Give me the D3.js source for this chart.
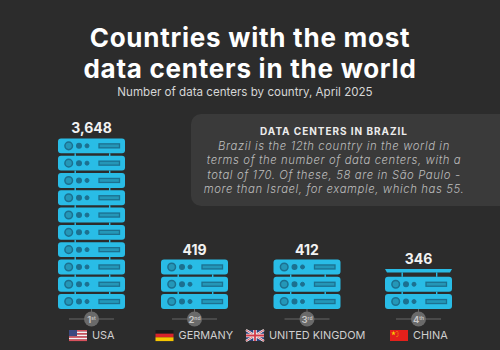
<!DOCTYPE html>
<html>
<head>
<meta charset="utf-8">
<script src="https://cdn.jsdelivr.net/npm/d3@7"></script>
<style>
html, body { margin: 0; padding: 0; background: #2c2c2c; }
svg { display: block; }
text { font-family: Inter, "Open Sans", sans-serif; }
</style>
</head>
<body>
<svg width="500" height="350"></svg>
<script>
const countries = ['USA', 'GERMANY', 'UNITED KINGDOM', 'CHINA'];
const values = [3648, 419, 412, 346];
const stackUnits = [10, 3, 3, 2.2];
const ranks = ['1', '2', '3', '4'];
const rankSuffix = ['st', 'nd', 'rd', 'th'];
const titleLines = ['Countries with the most', 'data centers in the world'];
const subtitle = 'Number of data centers by country, April 2025';
const noteTitle = 'DATA CENTERS IN BRAZIL';
const noteLines = [
	'Brazil is the 12th country in the world in',
	'terms of the number of data centers, with a',
	'total of 170. Of these, 58 are in São Paulo -',
	'more than Israel, for example, which has 55.'
];

const svg = d3.select('svg');
const width = +svg.attr('width');
const height = +svg.attr('height');

const blue = '#29bce6';
const dark = '#1c7090';
const bg = '#2c2c2c';
const blockW = 67;
const gap = 2.4;

const xScale = d3.scaleOrdinal().domain(countries).range([91.5, 194.5, 307, 418.5]);
const yScale = d3.scaleLinear().domain([0, 10]).range([309 + gap, 309 + gap - 173]);
const pitch = yScale(0) - yScale(1);
const blockH = pitch - gap;

svg.append('rect').attr('width', width).attr('height', height).attr('fill', bg);

// title block
svg.selectAll('.title').data(titleLines).enter().append('text')
	.attr('class', 'title')
	.attr('x', 250)
	.attr('y', (d, i) => 46.5 + i * 31.5)
	.attr('text-anchor', 'middle')
	.attr('font-size', 26)
	.attr('font-weight', 700)
	.attr('letter-spacing', 0.75)
	.attr('fill', '#fff')
	.text(d => d);

svg.append('text')
	.attr('x', 245)
	.attr('y', 96)
	.attr('text-anchor', 'middle')
	.attr('font-size', 11.6)
	.attr('fill', '#d6d6d6')
	.text(subtitle);

// note panel
svg.append('rect')
	.attr('x', 191).attr('y', 114)
	.attr('width', 330).attr('height', 92)
	.attr('rx', 10)
	.attr('fill', '#3a3a3a');

svg.append('text')
	.attr('x', 334).attr('y', 135)
	.attr('text-anchor', 'middle')
	.attr('font-size', 10)
	.attr('font-weight', 700)
	.attr('letter-spacing', 0.95)
	.attr('fill', '#ececec')
	.text(noteTitle);

svg.selectAll('.note').data(noteLines).enter().append('text')
	.attr('class', 'note')
	.attr('x', 334)
	.attr('y', (d, i) => 150 + i * 14.4)
	.attr('text-anchor', 'middle')
	.attr('font-size', 11.3)
	.attr('font-style', 'italic')
	.attr('font-weight', 300)
	.attr('letter-spacing', 0.62)
	.attr('fill', '#bdbdbd')
	.text(d => d);

const drawBlock = (g, left, top) => {
	g.append('rect')
		.attr('x', left).attr('y', top)
		.attr('width', blockW).attr('height', blockH)
		.attr('rx', 3)
		.attr('fill', blue);
	const cy = top + blockH / 2;
	[[10.7, 3.8, 1.5], [21, 2.4, 1.2], [29, 2, 1]].forEach(([dx, r, sw], i) => {
		g.append('circle')
			.attr('cx', left + dx).attr('cy', cy)
			.attr('r', r)
			.attr('fill', i == 0 ? '#2497b8' : dark)
			.attr('stroke', dark)
			.attr('stroke-width', sw);
	});
	g.append('rect')
		.attr('x', left + 41).attr('y', cy - 2)
		.attr('width', 20.5).attr('height', 4)
		.attr('fill', '#2497b8')
		.attr('stroke', dark)
		.attr('stroke-width', 1.3);
};

const drawConnectors = (g, left, top) => {
	[16.5, 51].forEach(dx => {
		g.append('rect')
			.attr('x', left + dx).attr('y', top + blockH)
			.attr('width', 1.4).attr('height', gap + 0.6)
			.attr('fill', blue);
	});
};

countries.forEach((c, k) => {
	const cx = xScale(c);
	const left = cx - blockW / 2;
	const g = svg.append('g');
	const units = stackUnits[k];
	const whole = Math.floor(units);

	d3.range(whole).forEach(i => {
		const top = yScale(i + 1);
		drawBlock(g, left, top);
		if (i > 0) drawConnectors(g, left, top);
	});

	let stackTop = yScale(whole) ;
	if (units > whole) {
		// part of a unit, only its top sliver shows
		const capBottom = yScale(whole) - gap - 2;
		const capTop = capBottom - (units - whole) * pitch;
		g.append('path')
			.attr('d', `M${left},${capTop} H${left + blockW} L${left + blockW - 2},${capBottom} H${left + 2} Z`)
			.attr('fill', blue);
		[16.5, 51].forEach(dx => {
			g.append('rect')
				.attr('x', left + dx).attr('y', capBottom)
				.attr('width', 1.4).attr('height', yScale(whole) - capBottom)
				.attr('fill', blue);
		});
		stackTop = capTop;
	}

	svg.append('text')
		.attr('x', cx).attr('y', stackTop - 5)
		.attr('text-anchor', 'middle')
		.attr('font-size', 14)
		.attr('font-weight', 700)
		.attr('fill', '#f2f2f2')
		.text(d3.format(',')(values[k]));

	// rank badge
	const badge = svg.append('g');
	badge.append('line')
		.attr('x1', cx - 22.5).attr('x2', cx + 22.5)
		.attr('y1', 319).attr('y2', 319)
		.attr('stroke', '#666').attr('stroke-width', 1);
	badge.append('line')
		.attr('x1', cx).attr('x2', cx)
		.attr('y1', 309).attr('y2', 319)
		.attr('stroke', '#666').attr('stroke-width', 1);
	badge.append('circle')
		.attr('cx', cx).attr('cy', 319).attr('r', 7.5)
		.attr('fill', '#6a6a6a');
	const rankText = badge.append('text')
		.attr('x', cx).attr('y', 322.5)
		.attr('text-anchor', 'middle')
		.attr('font-size', 9.5)
		.attr('font-weight', 600)
		.attr('fill', '#c8c8c8');
	rankText.append('tspan').text(ranks[k]);
	rankText.append('tspan').attr('font-size', 5).attr('dy', -3).text(rankSuffix[k]);
});

// flags, width 18 height 11
const flagX = d3.scaleOrdinal().domain(countries).range([69, 155.5, 246, 390]);
const flagY = 330;
const flagW = 18;
const flagH = 11;

const drawUS = g => {
	d3.range(7).forEach(i => {
		g.append('rect').attr('y', i * flagH / 7).attr('width', flagW).attr('height', flagH / 7 + 0.1)
			.attr('fill', i % 2 ? '#f4f4f4' : '#d8505c');
	});
	g.append('rect').attr('width', 8).attr('height', 6).attr('fill', '#3c4a80');
};
const drawDE = g => {
	['#1a1a1a', '#d8232a', '#f7c600'].forEach((col, i) => {
		g.append('rect').attr('y', i * flagH / 3).attr('width', flagW).attr('height', flagH / 3 + 0.1).attr('fill', col);
	});
};
const drawUK = g => {
	g.append('rect').attr('width', flagW).attr('height', flagH).attr('fill', '#2c3f7a');
	g.append('path').attr('d', `M0,0 L${flagW},${flagH} M${flagW},0 L0,${flagH}`).attr('stroke', '#f2f2f2').attr('stroke-width', 2.2);
	g.append('path').attr('d', `M0,0 L${flagW},${flagH} M${flagW},0 L0,${flagH}`).attr('stroke', '#d23a48').attr('stroke-width', 0.8);
	g.append('path').attr('d', `M${flagW / 2},0 V${flagH} M0,${flagH / 2} H${flagW}`).attr('stroke', '#f2f2f2').attr('stroke-width', 3.4);
	g.append('path').attr('d', `M${flagW / 2},0 V${flagH} M0,${flagH / 2} H${flagW}`).attr('stroke', '#d23a48').attr('stroke-width', 1.8);
};
const drawCN = g => {
	g.append('rect').attr('width', flagW).attr('height', flagH).attr('fill', '#e3201b');
	g.append('path')
		.attr('d', d3.symbol(d3.symbolStar, 7)())
		.attr('transform', 'translate(3.5,3.2)')
		.attr('fill', '#f7d100');
	[[7, 1.4], [8, 3], [8, 5], [7, 6.4]].forEach(([sx, sy]) => {
		g.append('circle').attr('cx', sx).attr('cy', sy).attr('r', 0.5).attr('fill', '#f7d100');
	});
};
const flagDrawers = [drawUS, drawDE, drawUK, drawCN];

countries.forEach((c, k) => {
	const g = svg.append('g').attr('transform', `translate(${flagX(c)},${flagY})`);
	flagDrawers[k](g);
	svg.append('text')
		.attr('x', flagX(c) + flagW + 5)
		.attr('y', 339)
		.attr('font-size', 10.9)
		.attr('fill', '#cfcfcf')
		.text(c);
});
</script>
</body>
</html>
